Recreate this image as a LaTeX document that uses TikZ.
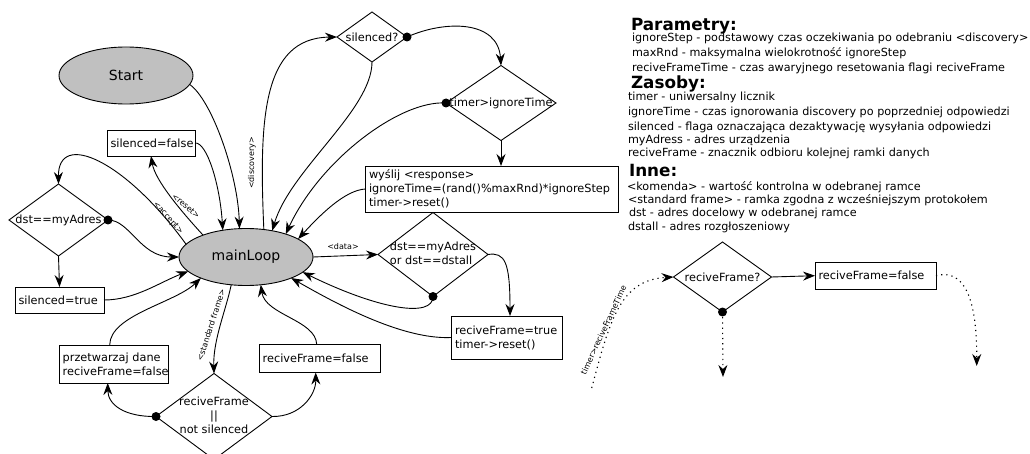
\documentclass[tikz,border=0pt]{standalone}
\usepackage{fontspec}
\setmainfont{DejaVu Sans}
\usetikzlibrary{arrows.meta,shapes.geometric}
\definecolor{ellfill}{RGB}{192,192,192}
\begin{document}
\begin{tikzpicture}[x=1pt,y=-1pt,
  every node/.style={font=\fontsize{11.3}{14}\selectfont, inner sep=0pt, outer sep=0pt},
  conn/.style={line width=0.9pt, -{Stealth[length=12pt,width=9pt,inset=4pt]}},
  dotline/.style={conn, line width=1.1pt, dash pattern=on 1.2pt off 4pt},
  box/.style={draw, line width=0.9pt, rectangle, align=left, inner xsep=3.5pt},
  ell/.style={draw, line width=0.9pt, ellipse, fill=ellfill, minimum width=134pt, minimum height=57pt, font=\fontsize{14}{17}\selectfont},
  dia/.style={draw, line width=0.9pt, diamond},
  lab/.style={font=\fontsize{8}{9}\selectfont},
  leg/.style={anchor=base west, font=\fontsize{11.2}{13}\selectfont},
  head/.style={anchor=base west, font=\fontsize{16.8}{18}\selectfont\bfseries},
  blob/.style={fill=black}
]
\useasboundingbox (0,0) rectangle (1030,454);

% ---------- nodes ----------
\node[ell] (start) at (126,75.5) {Start};
\node[ell] (main) at (246,257) {mainLoop};
\node[box, text width=81pt, minimum height=26pt] (sfalse) at (151,143) {silenced=false};
\node[dia, minimum width=99pt, minimum height=72pt] (dstmy) at (58.5,220) {\makebox[0pt]{dst==myAdres}};
\node[box, text width=82pt, minimum height=26pt] (strue) at (59.5,300) {silenced=true};
\node[dia, minimum width=70pt, minimum height=50pt] (silq) at (372,37) {\makebox[0pt]{silenced?}};
\node[dia, minimum width=110pt, minimum height=75pt] (tig) at (501,103) {\makebox[0pt]{timer>ignoreTime}};
\node[box, text width=246pt, minimum height=46pt] (wys) at (492,189) {wyślij <response>\\ignoreTime=(rand()\%maxRnd)*ignoreStep\\timer->reset()};
\node[dia, minimum width=110pt, minimum height=84pt] (dstor) at (433,254.5) {\makebox[0pt]{\fontsize{11.3}{15}\selectfont\begin{tabular}{@{}l@{}}dst==myAdres\\or dst==dstall\end{tabular}}};
\node[box, text width=104pt, minimum height=43pt] (rtrue) at (507,337.5) {reciveFrame=true\\timer->reset()};
\node[box, text width=114pt, minimum height=28pt] (rfalse) at (319.7,358.5) {reciveFrame=false};
\node[box, text width=102pt, minimum height=38pt] (przet) at (113.7,364) {przetwarzaj dane\\reciveFrame=false};
\node[dia, minimum width=116pt, minimum height=86pt] (rfns) at (214,416.5) {\makebox[0pt]{\begin{tabular}{@{}c@{}}reciveFrame\\||\\not silenced\end{tabular}}};

\node[dia, minimum width=98pt, minimum height=70pt] (rfq) at (722.5,277) {\makebox[0pt]{reciveFrame?}};
\node[box, text width=114pt, minimum height=27pt] (rff2) at (875.5,275.7) {reciveFrame=false};

% ---------- connector labels ----------
\node[lab, rotate=90] (ldisc) at (252,163) {<discovery>};
\node[lab, rotate=-48] (lacc) at (168,218) {<accept>};
\node[lab, rotate=-41] (lres) at (186,206) {<reset>};
\node[lab, rotate=72] (lstd) at (211,325) {<standard frame>};
\node[lab] (ldata) at (343,247) {<data>};
\node[lab, rotate=65] (ltim) at (603.5,330) {timer>reciveFrameTime};

% ---------- connectors ----------
\draw[conn] (start.-8) .. controls (212,100) and (238,175) .. (main.103);
\draw[conn] (sfalse.east) .. controls (207,142) and (220,185) .. (main.131);
\draw[conn] (main.57) .. controls (259,120) and (262,38) .. (silq.west);
\draw[conn] (silq.south) .. controls (372,110) and (290,170) .. (main.45);
\draw[conn] (silq.east) .. controls (445,20) and (498,20) .. (tig.north);
\fill[blob] (silq.east) circle[radius=4.5pt];
\draw[conn] (tig.south) -- (tig.south |- wys.north);
\draw[conn] (tig.west) .. controls (400,100) and (320,160) .. (main.30);
\fill[blob] (tig.west) circle[radius=4.5pt];
\draw[conn] (wys.west) .. controls (345,190) and (320,215) .. (main.19);
\draw[conn] (main.east) -- (dstor.west);
\draw[conn] (dstor.south) .. controls (433,318) and (380,310) .. (main.-15);
\fill[blob] (dstor.south) circle[radius=4.5pt];
\draw[conn] (dstor.east) .. controls (505,252) and (510,262) .. ([xshift=3pt]rtrue.north);
\draw[conn] (rtrue.west) .. controls (400,340) and (330,300) .. (main.-25);
\draw[conn] (main.-118) .. controls (226,310) and (213,340) .. (rfns.north);
\draw[conn] (rfns.west) .. controls (125,417) and (108,405) .. ([xshift=-6pt]przet.south);
\fill[blob] (rfns.west) circle[radius=4.5pt];
\draw[conn] (rfns.east) .. controls (300,417) and (316,395) .. ([xshift=-4pt]rfalse.south);
\draw[conn] ([xshift=-4pt]przet.north) .. controls (110,315) and (175,303) .. (main.-155);
\draw[conn] ([xshift=-3pt]rfalse.north) .. controls (316,320) and (265,315) .. (main.-62);
\draw[conn] (strue.east) .. controls (135,300) and (160,282) .. (main.-166);
\draw[conn] (dstmy.east) .. controls (130,220) and (140,257) .. (main.west);
\fill[blob] (dstmy.east) circle[radius=4.5pt];
\draw[conn] (dstmy.south) -- (strue.north);
\draw[conn] (main.168) .. controls (125,160) and (58,130) .. (dstmy.north);
\draw[conn] (main.153) .. controls (180,210) and (155,180) .. (sfalse.south);

% right part
\coordinate (rfqend) at (723,377);
\coordinate (rffend) at (976.7,366);
\coordinate (tstart) at (591.7,388);
\draw[dotline] (rfq.south) -- (rfqend);
\fill[blob] (rfq.south) circle[radius=4.5pt];
\draw[conn] (rfq.east) -- (rff2.west);
\draw[dotline] (rff2.east) .. controls (965,268) and (977,300) .. (rffend);
\draw[dotline] (tstart) .. controls (610,320) and (620,280) .. (rfq.west);

% ---------- legend ----------
\node[head] (hpar) at (631,31) {Parametry:};
\node[leg] (p1) at (632,41.5) {ignoreStep - podstawowy czas oczekiwania po odebraniu <discovery>};
\node[leg] (p2) at (632,57) {maxRnd - maksymalna wielokrotność ignoreStep};
\node[leg] (p3) at (632,72) {reciveFrameTime - czas awaryjnego resetowania flagi reciveFrame};
\node[head] (hzas) at (631,88.5) {Zasoby:};
\node[leg] (z1) at (628,101) {timer - uniwersalny licznik};
\node[leg] (z2) at (628,116) {ignoreTime - czas ignorowania discovery po poprzedniej odpowiedzi};
\node[leg] (z3) at (628,130.5) {silenced - flaga oznaczająca dezaktywację wysyłania odpowiedzi};
\node[leg] (z4) at (628,144) {myAdress - adres urządzenia};
\node[leg] (z5) at (628,156.5) {reciveFrame - znacznik odbioru kolejnej ramki danych};
\node[head] (hinn) at (629,177) {Inne:};
\node[leg] (i1) at (627,190.5) {<komenda> - wartość kontrolna w odebranej ramce};
\node[leg] (i2) at (628,204) {<standard frame> - ramka zgodna z wcześniejszym protokołem};
\node[leg] (i3) at (629,217) {dst - adres docelowy w odebranej ramce};
\node[leg] (i4) at (628,231) {dstall - adres rozgłoszeniowy};
\end{tikzpicture}
\end{document}
